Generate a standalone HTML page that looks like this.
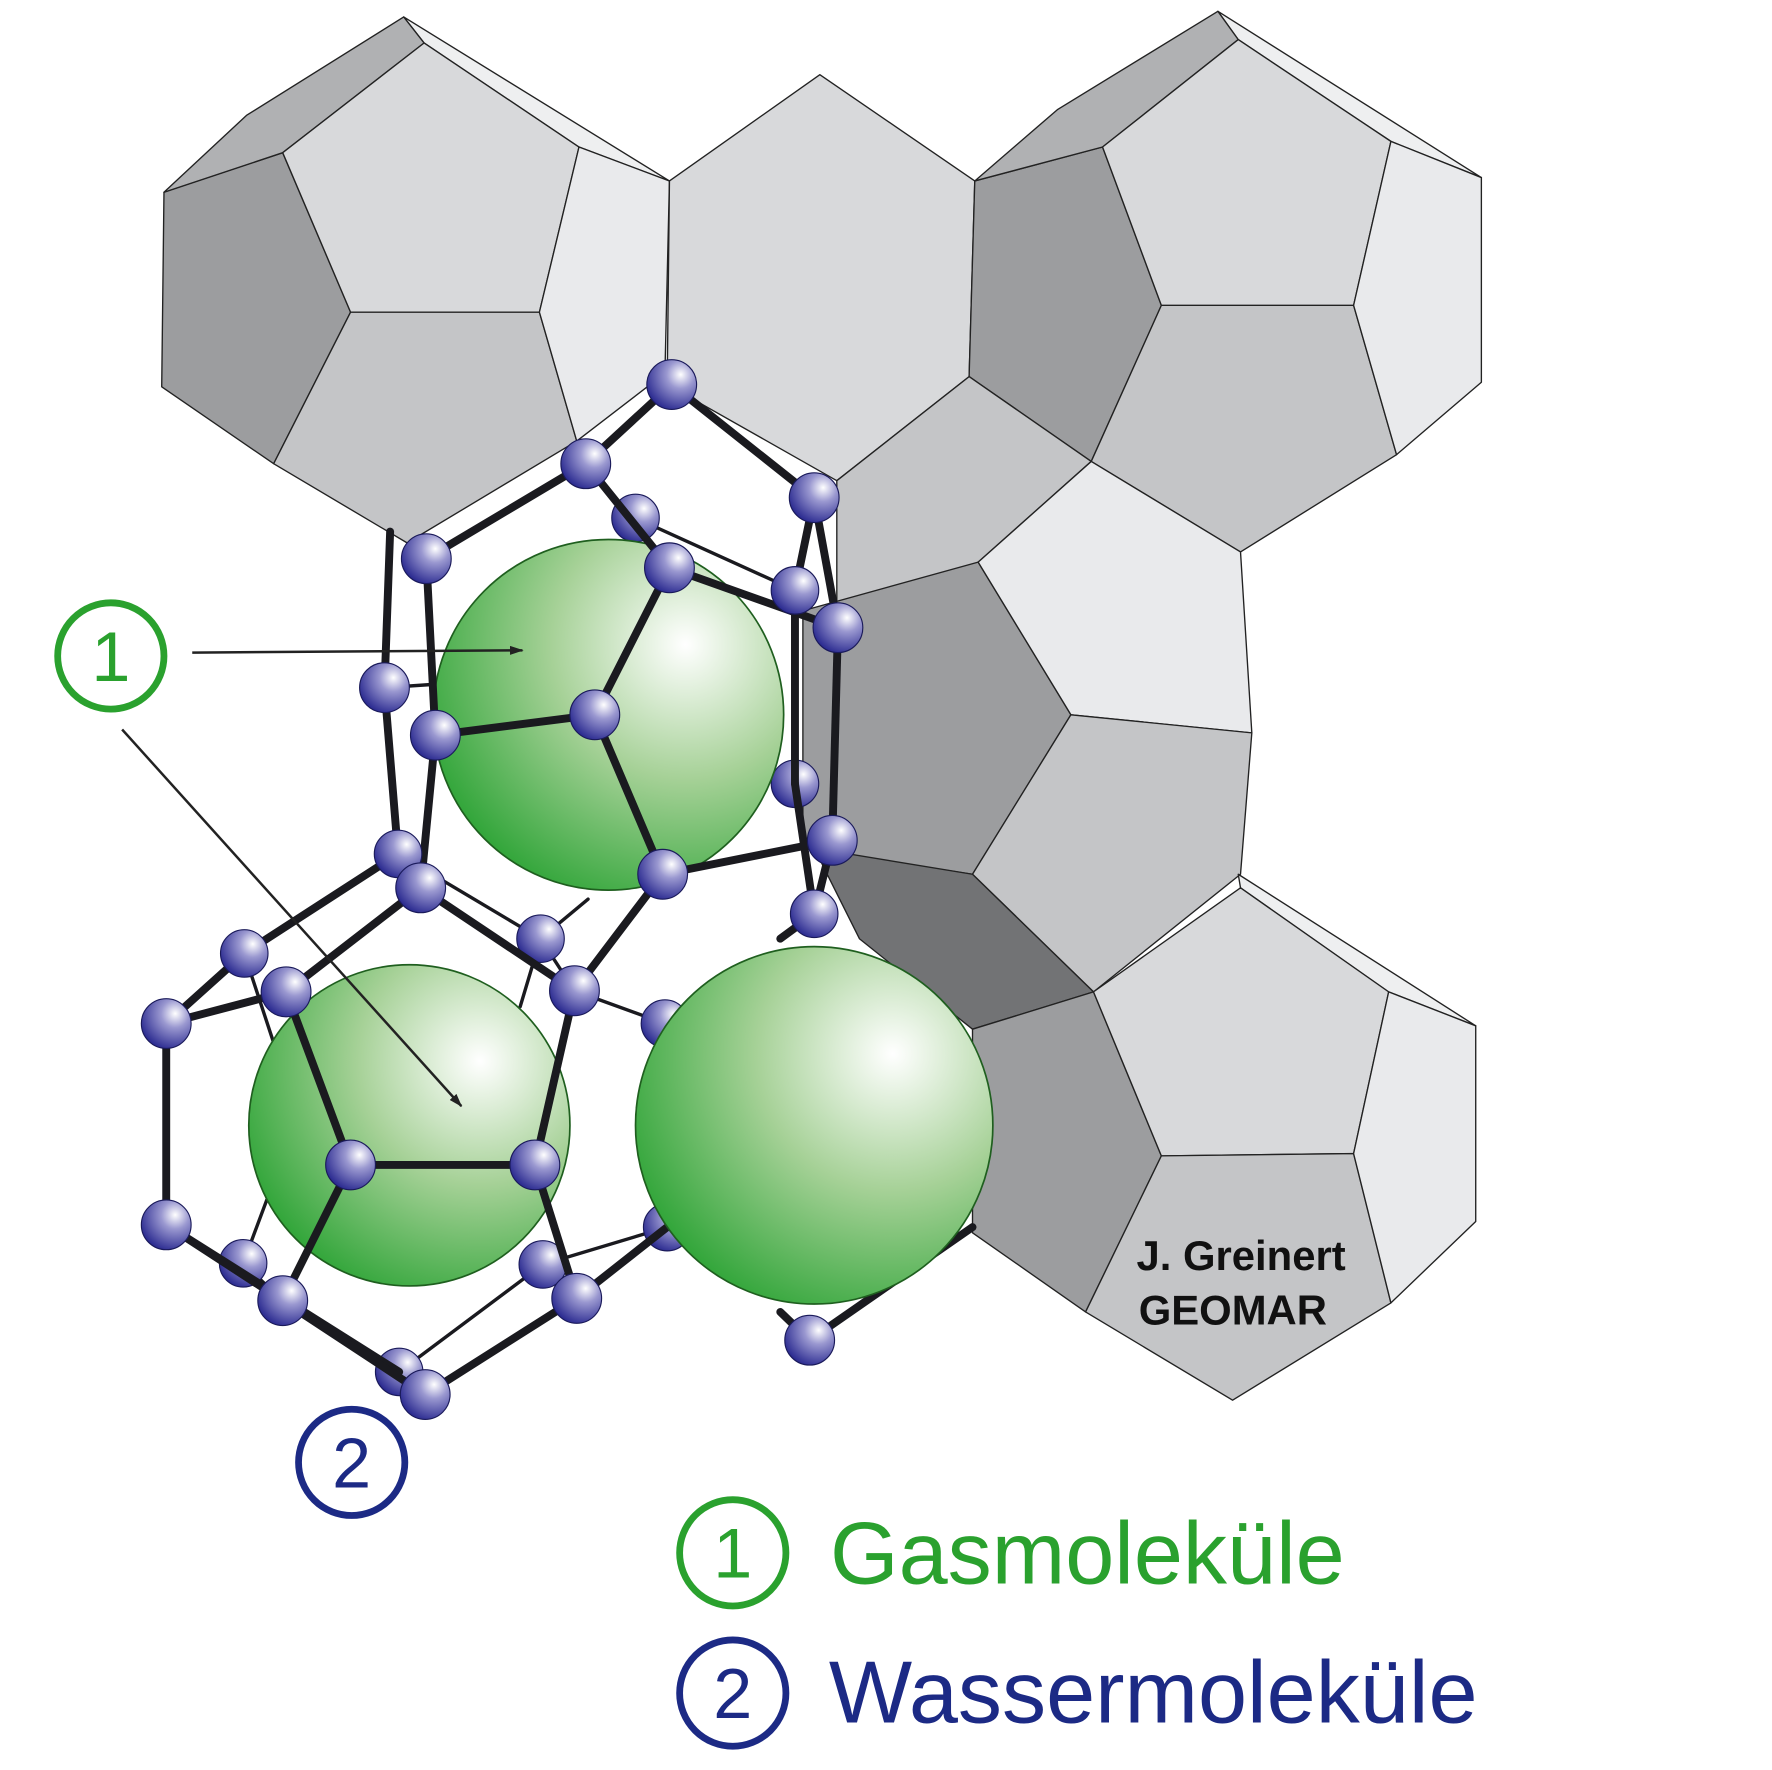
<!DOCTYPE html>
<html><head><meta charset="utf-8"><style>
html,body{margin:0;padding:0;background:#fff;}
svg{display:block;}
</style></head><body>
<svg width="1772" height="1770" viewBox="0 0 1567 1565" preserveAspectRatio="none" xmlns="http://www.w3.org/2000/svg">
<defs>
<radialGradient id="sg" cx="0.72" cy="0.3" r="0.85">
<stop offset="0" stop-color="#ffffff"/>
<stop offset="0.45" stop-color="#a6d197"/>
<stop offset="1" stop-color="#23a02e"/>
</radialGradient>
<radialGradient id="ag" cx="0.68" cy="0.3" r="0.8">
<stop offset="0" stop-color="#ffffff"/>
<stop offset="0.35" stop-color="#9a98d0"/>
<stop offset="1" stop-color="#20208a"/>
</radialGradient>
<marker id="ar" markerWidth="12" markerHeight="8" refX="11" refY="4" orient="auto" markerUnits="userSpaceOnUse">
<path d="M0,0 L12,4 L0,8 z" fill="#222"/>
</marker>
</defs>
<g stroke="#222" stroke-width="1.2" stroke-linejoin="round">
<polygon points="357,15 592,160 512,130 375,38" fill="#eeeff0"/>
<polygon points="145,170 250,135 310,276 242,410 143,342" fill="#9c9d9f"/>
<polygon points="145,170 218,102 357,15 375,38 250,135" fill="#b0b1b3"/>
<polygon points="250,135 375,38 512,130 477,276 310,276" fill="#d8d9db"/>
<polygon points="310,276 477,276 510,390 360,480 242,410" fill="#c4c5c7"/>
<polygon points="512,130 592,160 588,330 510,390 477,276" fill="#e9eaec"/>
<polygon points="592,160 725,66 862,160 857,333 740,425 590,340" fill="#d8d9db"/>
<polygon points="1077,10 1310,157 1230,125 1095,35" fill="#eeeff0"/>
<polygon points="862,160 975,130 1027,270 965,408 857,333" fill="#9c9d9f"/>
<polygon points="862,160 935,97 1077,10 1095,35 975,130" fill="#b0b1b3"/>
<polygon points="975,130 1095,35 1230,125 1197,270 1027,270" fill="#d8d9db"/>
<polygon points="1027,270 1197,270 1235,402 1097,488 965,408" fill="#c4c5c7"/>
<polygon points="1230,125 1310,157 1310,338 1235,402 1197,270" fill="#e9eaec"/>
<polygon points="740,425 857,333 965,408 865,497 740,555" fill="#c4c5c7"/>
<polygon points="710,540 865,497 947,632 860,773 710,750" fill="#9c9d9f"/>
<polygon points="865,497 965,408 1097,488 1107,648 947,632" fill="#e9eaec"/>
<polygon points="947,632 1107,648 1097,773 967,877 860,773" fill="#c4c5c7"/>
<polygon points="720,750 860,773 967,877 860,910 760,830" fill="#727375"/>
<polygon points="1095,773 1305,907 1228,877 1097,785" fill="#eeeff0"/>
<polygon points="860,910 967,877 1027,1022 960,1160 860,1090" fill="#9c9d9f"/>
<polygon points="967,877 1097,785 1228,877 1197,1020 1027,1022" fill="#d8d9db"/>
<polygon points="1027,1022 1197,1020 1230,1152 1090,1238 960,1160" fill="#c4c5c7"/>
<polygon points="1228,877 1305,907 1305,1080 1230,1152 1197,1020" fill="#e9eaec"/>
</g>
<g stroke="#1a1a1f" stroke-width="3" stroke-linecap="round">
<line x1="562" y1="458" x2="703" y2="522"/>
<line x1="352" y1="755" x2="478" y2="830"/>
<line x1="478" y1="830" x2="508" y2="876"/>
<line x1="508" y1="876" x2="588" y2="905"/>
<line x1="480" y1="1118" x2="590" y2="1085"/>
<line x1="353" y1="1213" x2="480" y2="1118"/>
<line x1="215" y1="1117" x2="250" y2="1150"/>
<line x1="215" y1="1117" x2="240" y2="1050"/>
<line x1="216" y1="843" x2="243" y2="925"/>
<line x1="478" y1="830" x2="460" y2="890"/>
<line x1="340" y1="608" x2="385" y2="605"/>
<line x1="478" y1="830" x2="520" y2="795"/>
</g>
<g fill="url(#ag)" stroke="#1a1a5a" stroke-width="1">
<circle cx="562" cy="458" r="21"/>
<circle cx="478" cy="830" r="21"/>
<circle cx="588" cy="905" r="21"/>
<circle cx="590" cy="1085" r="21"/>
<circle cx="215" cy="1117" r="21"/>
<circle cx="480" cy="1118" r="21"/>
<circle cx="353" cy="1213" r="21"/>
<circle cx="703" cy="693" r="21"/>
</g>
<g stroke="#1f5f1f" stroke-width="1.5">
<circle cx="538" cy="632" r="155" fill="url(#sg)"/>
<circle cx="362" cy="995" r="142" fill="url(#sg)"/>
</g>
<g stroke="#1a1a1f" stroke-width="7" stroke-linecap="round">
<line x1="594" y1="340" x2="518" y2="410"/>
<line x1="594" y1="340" x2="720" y2="440"/>
<line x1="518" y1="410" x2="377" y2="494"/>
<line x1="518" y1="410" x2="592" y2="502"/>
<line x1="720" y1="440" x2="703" y2="522"/>
<line x1="720" y1="440" x2="741" y2="555"/>
<line x1="592" y1="502" x2="741" y2="555"/>
<line x1="592" y1="502" x2="526" y2="632"/>
<line x1="377" y1="494" x2="385" y2="650"/>
<line x1="345" y1="470" x2="340" y2="608"/>
<line x1="340" y1="608" x2="352" y2="755"/>
<line x1="385" y1="650" x2="372" y2="785"/>
<line x1="385" y1="650" x2="526" y2="632"/>
<line x1="526" y1="632" x2="586" y2="773"/>
<line x1="703" y1="522" x2="703" y2="693"/>
<line x1="703" y1="693" x2="720" y2="808"/>
<line x1="741" y1="555" x2="736" y2="743"/>
<line x1="736" y1="743" x2="720" y2="808"/>
<line x1="736" y1="743" x2="586" y2="773"/>
<line x1="586" y1="773" x2="508" y2="876"/>
<line x1="352" y1="755" x2="216" y2="843"/>
<line x1="372" y1="785" x2="253" y2="877"/>
<line x1="372" y1="785" x2="508" y2="876"/>
<line x1="216" y1="843" x2="147" y2="905"/>
<line x1="253" y1="877" x2="147" y2="905"/>
<line x1="253" y1="877" x2="310" y2="1030"/>
<line x1="147" y1="905" x2="147" y2="1083"/>
<line x1="310" y1="1030" x2="473" y2="1030"/>
<line x1="310" y1="1030" x2="250" y2="1150"/>
<line x1="473" y1="1030" x2="508" y2="876"/>
<line x1="473" y1="1030" x2="510" y2="1148"/>
<line x1="147" y1="1083" x2="250" y2="1150"/>
<line x1="147" y1="1083" x2="353" y2="1213"/>
<line x1="250" y1="1150" x2="376" y2="1233"/>
<line x1="510" y1="1148" x2="376" y2="1233"/>
<line x1="510" y1="1148" x2="590" y2="1085"/>
<line x1="720" y1="808" x2="690" y2="830"/>
<line x1="690" y1="1160" x2="716" y2="1185"/>
<line x1="716" y1="1185" x2="860" y2="1085"/>
</g>
<circle cx="720" cy="995" r="158" fill="url(#sg)" stroke="#1f5f1f" stroke-width="1.5"/>
<g fill="url(#ag)" stroke="#1a1a5a" stroke-width="1">
<circle cx="594" cy="340" r="22"/>
<circle cx="518" cy="410" r="22"/>
<circle cx="720" cy="440" r="22"/>
<circle cx="377" cy="494" r="22"/>
<circle cx="592" cy="502" r="22"/>
<circle cx="703" cy="522" r="21"/>
<circle cx="741" cy="555" r="22"/>
<circle cx="340" cy="608" r="22"/>
<circle cx="385" cy="650" r="22"/>
<circle cx="526" cy="632" r="22"/>
<circle cx="736" cy="743" r="22"/>
<circle cx="352" cy="755" r="21"/>
<circle cx="372" cy="785" r="22"/>
<circle cx="586" cy="773" r="22"/>
<circle cx="720" cy="808" r="21"/>
<circle cx="216" cy="843" r="21"/>
<circle cx="508" cy="876" r="22"/>
<circle cx="253" cy="877" r="22"/>
<circle cx="147" cy="905" r="22"/>
<circle cx="310" cy="1030" r="22"/>
<circle cx="473" cy="1030" r="22"/>
<circle cx="147" cy="1083" r="22"/>
<circle cx="250" cy="1150" r="22"/>
<circle cx="510" cy="1148" r="22"/>
<circle cx="376" cy="1233" r="22"/>
<circle cx="716" cy="1185" r="22"/>
</g>
<g stroke="#222" stroke-width="2.2" fill="none">
<line x1="170" y1="577" x2="462" y2="575" marker-end="url(#ar)"/>
<line x1="108" y1="645" x2="408" y2="978" marker-end="url(#ar)"/>
</g>
<g fill="none" stroke-width="6">
<circle cx="98" cy="580" r="47" stroke="#2aa12e"/>
<circle cx="311" cy="1293" r="47" stroke="#1c2a85"/>
<circle cx="648" cy="1373" r="47" stroke="#2aa12e"/>
<circle cx="648" cy="1497" r="47" stroke="#1c2a85"/>
</g>
<g font-family="Liberation Sans, sans-serif" text-anchor="middle" font-size="62">
<text x="98" y="602" fill="#2aa12e">1</text>
<text x="311" y="1315" fill="#1c2a85">2</text>
<text x="648" y="1395" fill="#2aa12e">1</text>
<text x="648" y="1519" fill="#1c2a85">2</text>
</g>
<g font-family="Liberation Sans, sans-serif" font-size="78">
<text x="734" y="1400" fill="#2aa12e">Gasmoleküle</text>
<text x="733" y="1523" fill="#1c2a85">Wassermoleküle</text>
</g>
<g font-family="Liberation Sans, sans-serif" font-size="37" font-weight="bold" fill="#111">
<text x="1005" y="1123">J. Greinert</text>
<text x="1007" y="1171">GEOMAR</text>
</g>
</svg>
</body></html>
